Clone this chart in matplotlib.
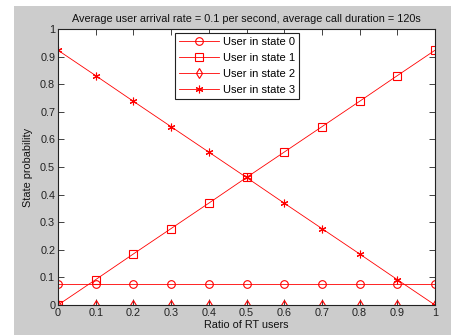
import matplotlib
matplotlib.use("Agg")
import matplotlib.pyplot as plt
from matplotlib.patches import Rectangle

x = [0, 0.1, 0.2, 0.3, 0.4, 0.5, 0.6, 0.7, 0.8, 0.9, 1.0]
state0 = [0.077, 0.077, 0.077, 0.077, 0.077, 0.077, 0.077, 0.077, 0.077, 0.077, 0.077]
state1 = [0.0, 0.092, 0.185, 0.277, 0.369, 0.462, 0.554, 0.646, 0.738, 0.831, 0.923]
state2 = [0.0, 0.0, 0.0, 0.0, 0.0, 0.0, 0.0, 0.0, 0.0, 0.0, 0.0]
state3 = [0.923, 0.831, 0.738, 0.646, 0.554, 0.462, 0.369, 0.277, 0.185, 0.092, 0.0]
labels = ["User in state 0", "User in state 1", "User in state 2", "User in state 3"]
xticks = [0, 0.1, 0.2, 0.3, 0.4, 0.5, 0.6, 0.7, 0.8, 0.9, 1]
yticks = [0, 0.1, 0.2, 0.3, 0.4, 0.5, 0.6, 0.7, 0.8, 0.9, 1]

plt.rcParams["font.family"] = ["Liberation Sans", "DejaVu Sans"]
FS = 7.8

W, H = 451, 335
fig = plt.figure(figsize=(W/100, H/100), dpi=100, facecolor="#cccccc")
fig.patches.append(Rectangle((0, 0), 14/W, 1, transform=fig.transFigure,
                             facecolor="white", edgecolor="none", zorder=-1))
fig.patches.append(Rectangle((0, 1-6/H), 1, 6/H, transform=fig.transFigure,
                             facecolor="white", edgecolor="none", zorder=-1))
ax = fig.add_axes([58/W, 1-305/H, 377/W, 276/H])
ax.set_facecolor("white")

red = "#ff0000"
ms = 5.5
lw = 0.6
ax.plot(x, state0, color=red, lw=lw, marker="o", mfc="none", mec=red, ms=ms, mew=0.8, label=labels[0])
ax.plot(x, state1, color=red, lw=lw, marker="s", mfc="none", mec=red, ms=ms, mew=0.8, label=labels[1])
ax.plot(x, state2, color=red, lw=lw, marker="d", mfc="none", mec=red, ms=ms, mew=0.8, label=labels[2])
ax.plot(x, state3, color=red, lw=lw, marker=(6, 2, 0), mfc="none", mec=red, ms=ms, mew=0.8, label=labels[3])

ax.set_xlim(0, 1)
ax.set_ylim(0, 1)
ax.set_xticks(xticks)
ax.set_xticklabels([f"{t:g}" for t in xticks])
ax.set_yticks(yticks)
ax.set_yticklabels([f"{t:g}" for t in yticks])
ax.tick_params(direction="in", top=True, right=True, labelsize=FS, length=4,
               width=0.6, pad=2, colors="#222222")
for s in ax.spines.values():
    s.set_linewidth(0.8)
    s.set_color("#222222")

ax.set_title("Average user arrival rate = 0.1 per second, average call duration = 120s",
             fontsize=FS, pad=5, color="#111111")
ax.set_xlabel("Ratio of RT users", fontsize=FS, labelpad=1.5, color="#111111")
ax.set_ylabel("State probability", fontsize=FS, labelpad=5, color="#111111")

leg = ax.legend(loc="upper left", bbox_to_anchor=(117/377, 1-4/276), fontsize=8,
                frameon=True, fancybox=False, edgecolor="#222222", framealpha=1,
                handlelength=3.6, borderpad=0.35, labelspacing=0.55, handletextpad=0.4,
                borderaxespad=0)
leg.get_frame().set_linewidth(0.8)

fig.savefig("out.png", dpi=100, facecolor=fig.get_facecolor())
